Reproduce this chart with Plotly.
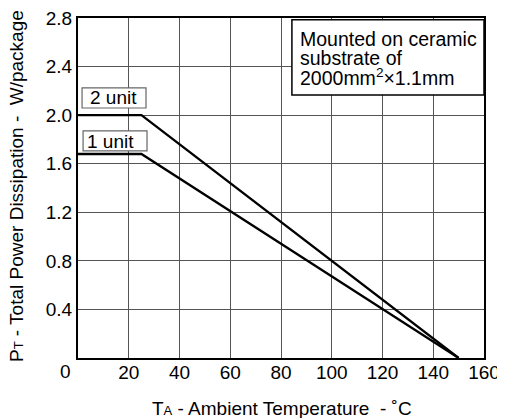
import plotly.graph_objects as go

# Data
temp_points = [0, 25, 150]
p_2unit = [2.0, 2.0, 0.0]
p_1unit = [1.68, 1.68, 0.0]
x_ticks = [20, 40, 60, 80, 100, 120, 140, 160]
y_ticks = [0.4, 0.8, 1.2, 1.6, 2.0, 2.4, 2.8]
y_tick_labels = ["0.4", "0.8", "1.2", "1.6", "2.0", "2.4", "2.8"]
note_lines = ["Mounted on ceramic", "substrate of", "2000mm<sup>2</sup>×1.1mm"]
x_title = 'T<span style="font-size:13px">A</span> - Ambient Temperature  - ˚C'
y_title = 'P<span style="font-size:13px">T</span> - Total Power Dissipation -  W/package'

FONT = "Liberation Sans, Arial, Helvetica, sans-serif"
FS = 19

fig = go.Figure()
for ys in (p_2unit, p_1unit):
    fig.add_trace(go.Scatter(x=temp_points, y=ys, mode="lines",
                             line=dict(color="black", width=2.3),
                             showlegend=False, hoverinfo="skip"))

# page body adds an 8px offset, so the figure is sized to fill the rest of the window
fig.update_layout(
    width=497, height=410,
    margin=dict(l=70, r=21, t=10, b=60),
    paper_bgcolor="white", plot_bgcolor="white",
    font=dict(family=FONT, size=FS, color="black"),
    showlegend=False,
)
fig.update_xaxes(range=[0, 160], tickvals=x_ticks, ticks="", showgrid=True,
                 gridcolor="#555555", gridwidth=1.3, zeroline=False,
                 showline=True, linecolor="black", linewidth=2, mirror=True,
                 ticklabelstandoff=-4, automargin=False, ticklabeloverflow="allow",
                 tickfont=dict(size=FS))
fig.update_yaxes(range=[0, 2.8], tickvals=y_ticks, ticktext=y_tick_labels, ticks="",
                 showgrid=True, gridcolor="#555555", gridwidth=1.3, zeroline=False,
                 showline=True, linecolor="black", linewidth=2, mirror=True,
                 ticklabelstandoff=0, automargin=False, ticklabeloverflow="allow",
                 tickfont=dict(size=FS))

# axis titles
fig.add_annotation(x=0.502, y=-0.150, xref="paper", yref="paper", text=x_title,
                   showarrow=False, xanchor="center", yanchor="middle",
                   font=dict(size=FS))
fig.add_annotation(x=-0.150, y=0.506, xref="paper", yref="paper", text=y_title,
                   showarrow=False, xanchor="center", yanchor="middle", textangle=-90,
                   font=dict(size=FS))

# origin label
fig.add_annotation(x=0, y=0, xref="x", yref="y", text="0", showarrow=False,
                   xanchor="center", yanchor="middle", xshift=-13, yshift=-13,
                   font=dict(size=FS))

# note box
fig.add_shape(type="rect", xref="x", yref="y", x0=84.3, x1=160, y0=2.165, y1=2.785,
              line=dict(color="black", width=1.5), fillcolor="white", layer="above")
for i, t in enumerate(note_lines):
    fig.add_annotation(x=86.8, y=2.627 - i * 0.157, xref="x", yref="y", text=t,
                       showarrow=False, xanchor="left", yanchor="middle",
                       font=dict(size=19.5))

# unit labels
for (x0, x1, y0, y1, tx, ty, label) in [
        (1.6, 26.8, 2.059, 2.224, 3.9, 2.142, "2 unit"),
        (2.0, 27.2, 1.705, 1.870, 2.8, 1.787, "1 unit")]:
    fig.add_shape(type="rect", xref="x", yref="y", x0=x0, x1=x1, y0=y0, y1=y1,
                  line=dict(color="#666666", width=1.2), fillcolor="white", layer="above")
    fig.add_annotation(x=tx, y=ty, xref="x", yref="y", text=label, showarrow=False,
                       xanchor="left", yanchor="middle", font=dict(size=FS))

fig.write_html("out.html")
